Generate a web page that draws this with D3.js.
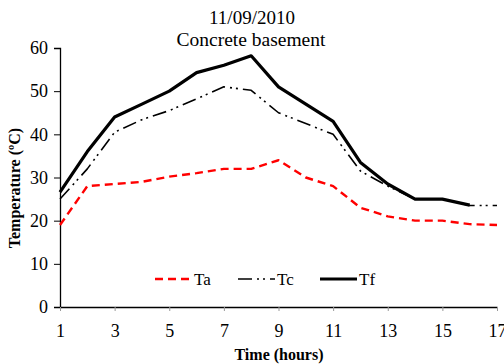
<!DOCTYPE html>
<html>
<head>
<meta charset="utf-8">
<script src="https://cdn.jsdelivr.net/npm/d3@7"></script>
<style>
  body { margin: 0; background: #fff; }
  svg { display: block; font-family: "Liberation Serif", "Times New Roman", serif; }
</style>
</head>
<body>
<svg id="svg" width="504" height="364"></svg>
<script>
// hours on the x axis
var hours = [1,2,3,4,5,6,7,8,9,10,11,12,13,14,15,16,17];
var ta = [19,28,28.5,29,30.2,31,32,32,34,30,28,23,21,20,20,19.2,19];
var tc = [25,32,40.5,43.4,45.5,48.2,51,50.2,45,42.5,40,31.5,28,25,25,23.5,23.5];
var tf = [26.6,36,44,47,50,54.3,56,58.2,51,47,43,33.5,28.5,25,25,23.6];
var xTicks = [1,3,5,7,9,11,13,15,17];
var yTicks = [0,10,20,30,40,50,60];
var seriesNames = ["Ta","Tc","Tf"];

var svg = d3.select("#svg");
var plotLeft = 60, plotRight = 497, plotTop = 48, plotBottom = 307;

var x = d3.scaleLinear().domain([1,17]).range([plotLeft,plotRight]);
var y = d3.scaleLinear().domain([0,60]).range([plotBottom,plotTop]);

// title
svg.append("text").attr("x",252).attr("y",24).attr("text-anchor","middle")
  .style("font-size","19px").text("11/09/2010");
svg.append("text").attr("x",251).attr("y",46).attr("text-anchor","middle")
  .style("font-size","19.5px").text("Concrete basement");

// axes
var yAxis = svg.append("g").attr("transform","translate(" + plotLeft + ",0)")
  .call(d3.axisLeft(y).tickValues(yTicks).tickSize(6).tickPadding(6).tickFormat(d3.format("d")));
var xAxis = svg.append("g").attr("transform","translate(0," + plotBottom + ")")
  .call(d3.axisBottom(x).tickValues(xTicks).tickSize(4).tickPadding(13).tickSizeOuter(0));
[yAxis, xAxis].forEach(function(g){
  g.select(".domain").attr("stroke","#000").attr("stroke-width",1.3);
  g.selectAll("text").style("font-size","18px").style("font-family","Liberation Serif").attr("fill","#000");
});
yAxis.selectAll(".tick line").attr("stroke","#000");
xAxis.selectAll(".tick line").attr("stroke","#999");

// axis titles
svg.append("text").attr("x",279).attr("y",360).attr("text-anchor","middle")
  .style("font-size","16px").style("font-weight","bold").text("Time (hours)");
svg.append("text").attr("transform","translate(20,188) rotate(-90)").attr("text-anchor","middle")
  .style("font-size","16px").style("font-weight","bold").text("Temperature (ºC)");

var styles = {
  Ta: {color:"#ff0000", width:2.4, dash:"8,5"},
  Tc: {color:"#000", width:1.6, dash:"14,5,2,4,2,5"},
  Tf: {color:"#000", width:3.2, dash:null}
};

var line = d3.line().x(function(d){ return x(d[0]); }).y(function(d){ return y(d[1]); });
var allData = {Ta: ta, Tc: tc, Tf: tf};

seriesNames.forEach(function(name){
  var pts = allData[name].map(function(v,i){ return [hours[i], v]; });
  var s = styles[name];
  svg.append("path").datum(pts).attr("d",line)
    .attr("fill","none").attr("stroke",s.color).attr("stroke-width",s.width)
    .attr("stroke-linejoin","round")
    .attr("stroke-dasharray",s.dash);
});

// legend
var legendX = [155, 238, 320];
seriesNames.forEach(function(name,i){
  var s = styles[name];
  var lx = legendX[i];
  svg.append("line").attr("x1",lx).attr("x2",lx+37).attr("y1",279).attr("y2",279)
    .attr("stroke",s.color).attr("stroke-width",s.width).attr("stroke-dasharray",s.dash);
  svg.append("text").attr("x",lx+39).attr("y",285).style("font-size","17px").text(name);
});
</script>
</body>
</html>
